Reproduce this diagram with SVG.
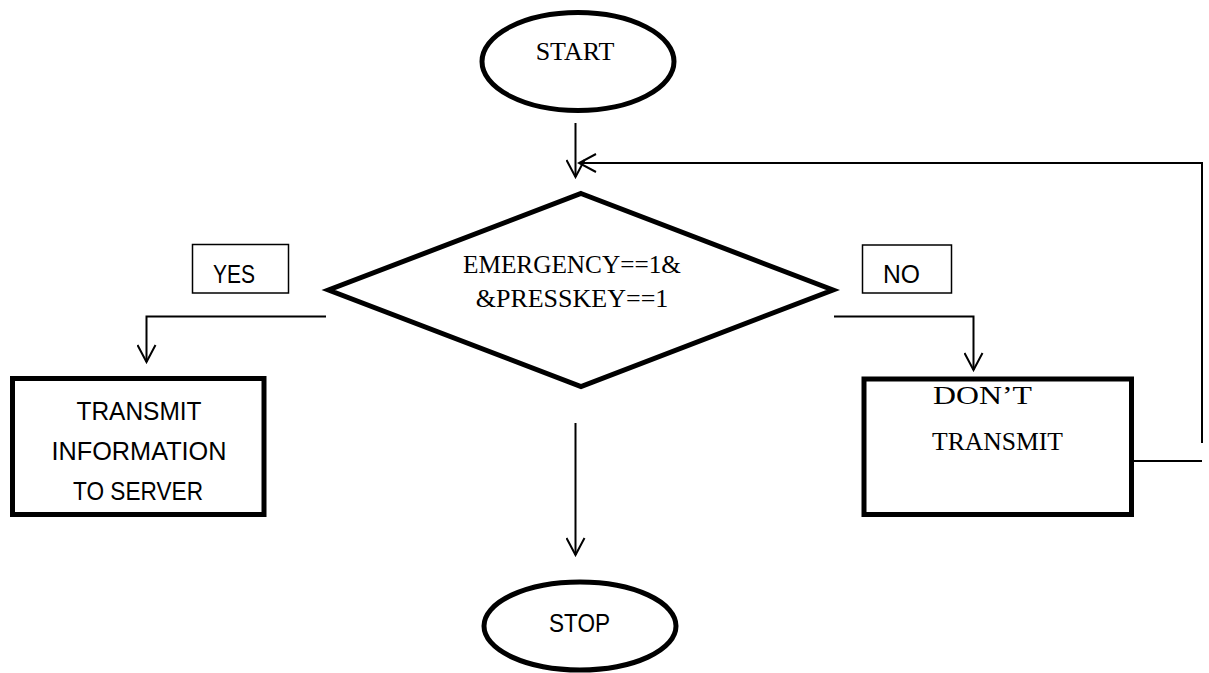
<svg xmlns="http://www.w3.org/2000/svg" width="1209" height="673" viewBox="0 0 1209 673">
<style>
.thick{fill:#fff;stroke:#000;stroke-width:5}
.thin{fill:none;stroke:#000;stroke-width:2}
.lbl{fill:#fff;stroke:#000;stroke-width:1.5}
.serif{font-family:"Liberation Serif","Times New Roman",serif;font-size:26px;fill:#000}
.sans{font-family:"Liberation Sans",Arial,sans-serif;font-size:25px;fill:#000}
</style>
<defs>
<marker id="arr" viewBox="0 0 20 20" refX="18" refY="10" markerWidth="20" markerHeight="20" markerUnits="userSpaceOnUse" orient="auto">
<path d="M1,1 L18,10 L1,19" fill="none" stroke="#000" stroke-width="2"/>
</marker>
</defs>
<g id="connectors">
<line class="thin" x1="575.5" y1="123" x2="575.5" y2="177" marker-end="url(#arr)"/>
<polyline class="thin" points="1133,461 1202,461"/>
<polyline class="thin" points="1202,443 1202,163 579,163" marker-end="url(#arr)"/>
<polyline class="thin" points="326,316.5 146.5,316.5 146.5,362" marker-end="url(#arr)"/>
<polyline class="thin" points="834,316.5 973.5,316.5 973.5,370" marker-end="url(#arr)"/>
<line class="thin" x1="575.5" y1="423" x2="575.5" y2="555" marker-end="url(#arr)"/>
</g>
<g id="start">
<ellipse class="thick" cx="578" cy="61.5" rx="96" ry="49"/>
<text class="serif" x="575" y="60" text-anchor="middle" font-size="27">START</text>
</g>
<g id="decision">
<polygon class="thick" points="581,193.5 833,290 581,386.5 328.5,290"/>
<text class="serif" x="572" y="273" text-anchor="middle" textLength="218" lengthAdjust="spacingAndGlyphs">EMERGENCY==1&amp;</text>
<text class="serif" x="572" y="307" text-anchor="middle">&amp;PRESSKEY==1</text>
</g>
<g id="yes">
<rect class="lbl" x="192.5" y="244.5" width="96" height="48.5"/>
<text class="sans" x="234" y="282.5" text-anchor="middle" textLength="42" lengthAdjust="spacingAndGlyphs">YES</text>
</g>
<g id="no">
<rect class="lbl" x="862.5" y="245" width="89" height="48"/>
<text class="sans" x="901.5" y="282.5" text-anchor="middle" textLength="37" lengthAdjust="spacingAndGlyphs">NO</text>
</g>
<g id="transmit">
<rect class="thick" x="12.5" y="378.5" width="251.5" height="136"/>
<text class="sans" x="139" y="419.5" text-anchor="middle" textLength="125" lengthAdjust="spacingAndGlyphs">TRANSMIT</text>
<text class="sans" x="139" y="460" text-anchor="middle" textLength="175" lengthAdjust="spacingAndGlyphs">INFORMATION</text>
<text class="sans" x="138" y="500" text-anchor="middle" textLength="130" lengthAdjust="spacingAndGlyphs">TO SERVER</text>
</g>
<g id="donttransmit">
<rect class="thick" x="864" y="379" width="267.5" height="135.5"/>
<text class="serif" x="933" y="404" font-size="28" textLength="99" lengthAdjust="spacingAndGlyphs">DON’T</text>
<text class="serif" x="932" y="450" textLength="131" lengthAdjust="spacingAndGlyphs">TRANSMIT</text>
</g>
<g id="stop">
<ellipse class="thick" cx="580" cy="626" rx="96" ry="44"/>
<text class="sans" x="579.5" y="631.5" text-anchor="middle" textLength="61" lengthAdjust="spacingAndGlyphs">STOP</text>
</g>
</svg>
